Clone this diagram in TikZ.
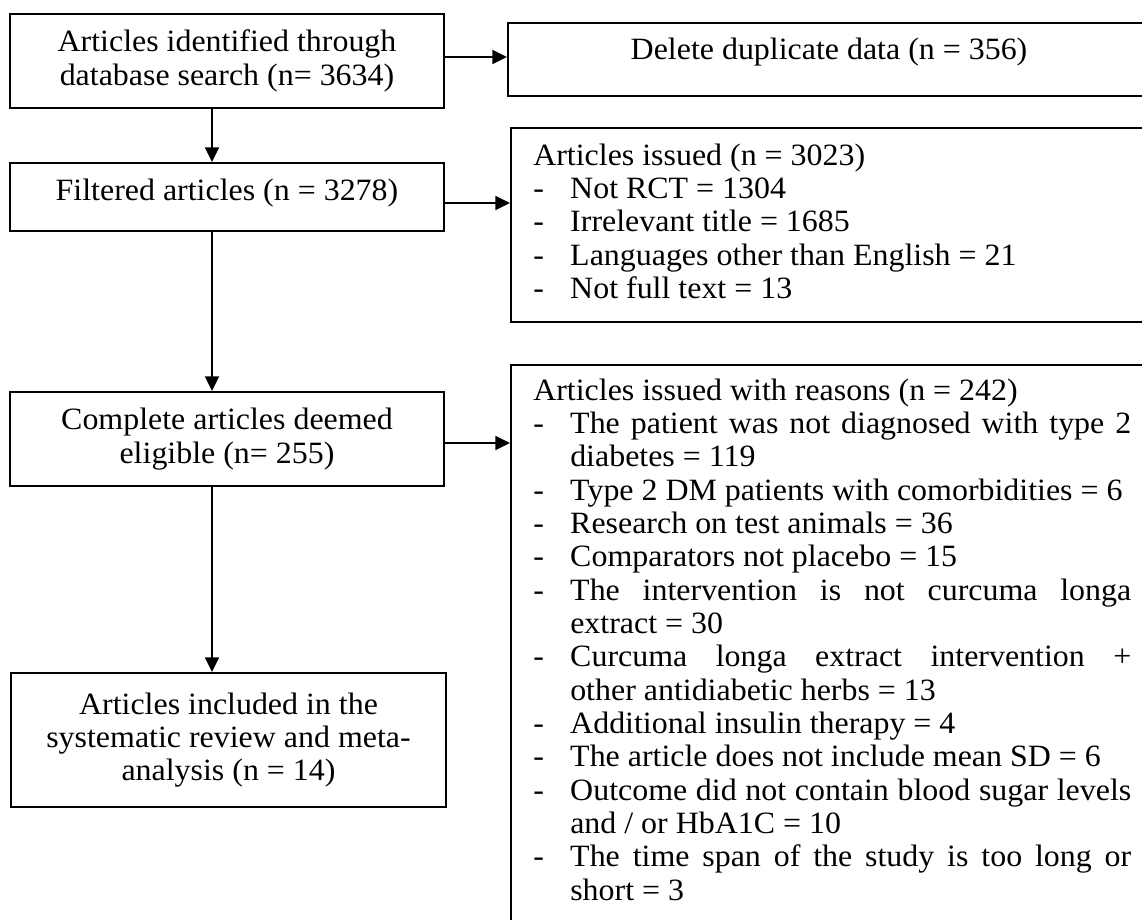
\documentclass[tikz,border=0pt]{standalone}
\usepackage{fontspec}
\setmainfont{Liberation Serif}[FakeStretch=1.03]
\usetikzlibrary{arrows.meta}
\newdimen\pxu \pxu=0.75pt
\newcommand\fsz{\fontsize{23.25pt}{25pt}\selectfont\parskip=0pt\parindent=0pt}
\newcommand\itm[1]{\par\noindent\hangindent=37\pxu\hangafter=1\makebox[37\pxu][l]{-}#1}
\begin{document}
\begin{tikzpicture}[x=0.75pt,y=-0.75pt,
  box/.style={draw=black,line width=1.5pt,inner sep=0pt},
  lbl/.style={inner sep=0pt,align=center,font=\fsz},
  rtext/.style={inner sep=0pt,text width=598\pxu,align=justify,font=\fsz,anchor=north west},
  arr/.style={line width=1.5pt,-{Triangle[length=11pt,width=10.5pt]}}]
\useasboundingbox (0,0) rectangle (1142,920);
\begin{scope}
\clip (0,0) rectangle (1142,920);
% left column
\node[box,lbl,minimum width=434\pxu,minimum height=94\pxu] (box1) at (227,61)
  {Articles identified through\\database search (n= 3634)};
\node[box,minimum width=434\pxu,minimum height=68\pxu] (box3) at (227,197) {};
\node[lbl,anchor=base] (t3) at (227,200) {Filtered articles (n = 3278)};
\node[box,lbl,minimum width=434\pxu,minimum height=94\pxu] (box5) at (227,439)
  {Complete articles deemed\\eligible (n= 255)};
\node[box,lbl,minimum width=435\pxu,minimum height=134\pxu] (box7) at (228.5,740)
  {Articles included in the\\systematic review and meta-\\analysis (n = 14)};
% right column
\node[box,minimum width=644\pxu,minimum height=73\pxu] (box2) at (830,59.5) {};
\node[lbl,anchor=base] (t2) at (829,60) {Delete duplicate data (n = 356)};
\node[box,minimum width=641\pxu,minimum height=194\pxu] (box4) at (831.5,225) {};
\node[rtext] (t4) at (533,143.5) {Articles issued (n = 3023)
\itm{Not RCT = 1304}
\itm{Irrelevant title = 1685}
\itm{Languages other than English = 21}
\itm{Not full text = 13}\par};
\node[box,minimum width=641\pxu,minimum height=595\pxu] (box6) at (831.5,662.5) {};
\node[rtext] (t6) at (533,378.5) {Articles issued with reasons (n = 242)
\itm{The patient was not diagnosed with type 2\linebreak diabetes = 119}
\itm{Type 2 DM patients with comorbidities = 6}
\itm{Research on test animals = 36}
\itm{Comparators not placebo = 15}
\itm{The intervention is not curcuma longa\linebreak extract = 30}
\itm{Curcuma longa extract intervention +\linebreak other antidiabetic herbs = 13}
\itm{Additional insulin therapy = 4}
\itm{The article does not include mean SD = 6}
\itm{Outcome did not contain blood sugar levels\linebreak and / or HbA1C = 10}
\itm{The time span of the study is too long or\linebreak short = 3}\par};
% connectors
\coordinate (ax) at (212,0);
\coordinate (h1) at (0,57);
\coordinate (h2) at (0,203);
\coordinate (h3) at (0,443);
\draw[arr] (ax |- box1.south) -- (ax |- box3.north);
\draw[arr] (ax |- box3.south) -- (ax |- box5.north);
\draw[arr] (ax |- box5.south) -- (ax |- box7.north);
\draw[arr] (box1.east |- h1) -- (box2.west |- h1);
\draw[arr] (box3.east |- h2) -- (box4.west |- h2);
\draw[arr] (box5.east |- h3) -- (box6.west |- h3);
\end{scope}
\end{tikzpicture}
\end{document}
